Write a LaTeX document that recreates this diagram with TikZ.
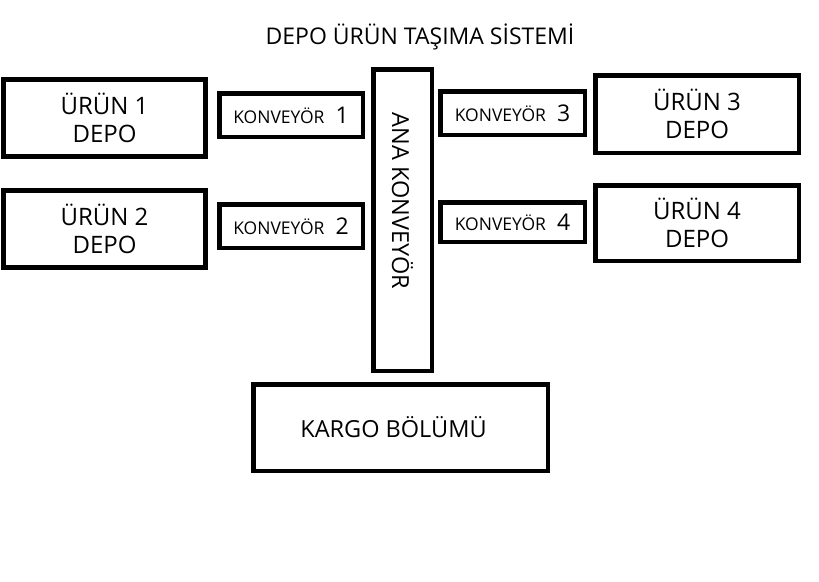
\documentclass[tikz,border=0pt]{standalone}
\usepackage{fontspec}
\setmainfont{Open Sans}
\tikzset{
  kutu/.style={draw, line width=4.5pt, inner sep=0pt, align=center,
    font=\fontsize{24}{28}\selectfont},
  konv/.style={kutu, font=\fontsize{17.5}{20}\selectfont}
}
\newcommand{\konvtext}[1]{KONVEY\"OR\hspace{11pt}{\fontsize{23}{23}\selectfont #1}}
\begin{document}
\begin{tikzpicture}[x=1pt,y=-1pt]
	\useasboundingbox (0,0) rectangle (819,581);
	\path (420,37) node (baslik) {\fontsize{23}{26}\selectfont DEPO ÜRÜN TAŞIMA SİSTEMİ};

	\node[kutu, minimum width=202pt, minimum height=77pt] (urun1) at (104.5,118) {ÜRÜN 1\\DEPO};
	\node[kutu, minimum width=202pt, minimum height=77pt] (urun2) at (104.5,229) {ÜRÜN 2\\DEPO};
	\node[konv, minimum width=143.5pt, minimum height=43.5pt] (konv1) at (291,115) {\konvtext{1}};
	\node[konv, minimum width=143.5pt, minimum height=43.5pt] (konv2) at (291,226) {\konvtext{2}};

	\node[kutu, minimum width=58.5pt, minimum height=301.5pt] (ana) at (402.5,220) {};
	\path (ana.center) ++(0,-19) node[rotate=-90, font=\fontsize{23.5}{27}\selectfont] (anatext) {ANA KONVEYÖR};

	\node[konv, minimum width=144.5pt, minimum height=43.5pt] (konv3) at (512.5,113) {\konvtext{3}};
	\node[konv, minimum width=144.5pt, minimum height=39.5pt] (konv4) at (512.5,222) {\konvtext{4}};
	\node[kutu, minimum width=203.5pt, minimum height=77.5pt] (urun3) at (697,114) {ÜRÜN 3\\DEPO};
	\node[kutu, minimum width=203.5pt, minimum height=75.5pt] (urun4) at (697,223) {ÜRÜN 4\\DEPO};

	\node[kutu, minimum width=294.5pt, minimum height=86.5pt] (kargo) at (400.5,427.5) {};
	\path (kargo.center) ++(-7,0) node[font=\fontsize{23.5}{27}\selectfont] (kargotext) {KARGO BÖLÜMÜ};
\end{tikzpicture}
\end{document}
